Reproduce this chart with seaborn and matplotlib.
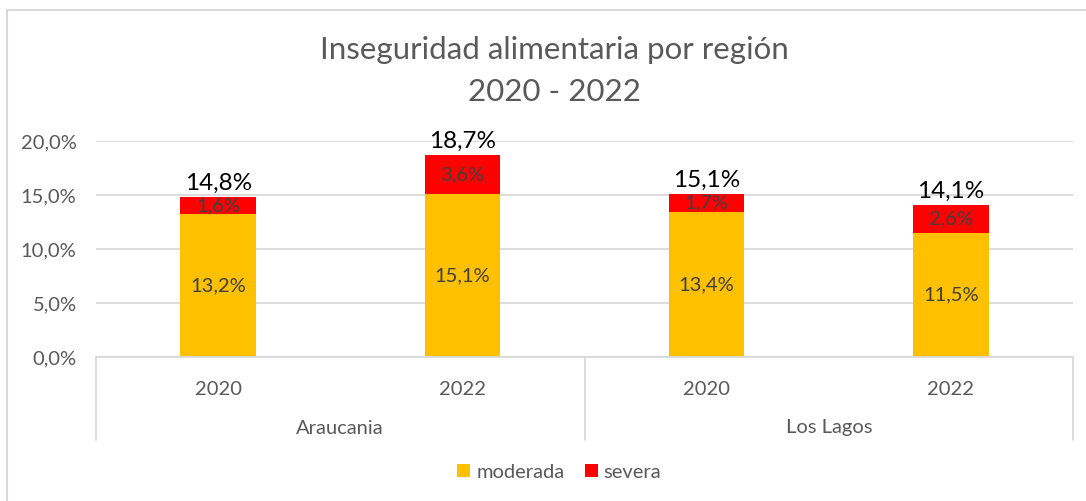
import matplotlib
matplotlib.use("Agg")
import matplotlib.pyplot as plt
import matplotlib.transforms as mtransforms
from matplotlib.ticker import FuncFormatter, MultipleLocator
from matplotlib.patches import Patch, Rectangle
import seaborn as sns
import pandas as pd

regions = ["Araucania", "Araucania", "Los Lagos", "Los Lagos"]
years = ["2020", "2022", "2020", "2022"]
moderada = [13.2, 15.1, 13.4, 11.5]
severa = [1.6, 3.6, 1.7, 2.6]
totals = [14.8, 18.7, 15.1, 14.1]
series_names = ["moderada", "severa"]
title_lines = ["Inseguridad alimentaria por región", "2020 - 2022"]

YELLOW = "#FFC000"
RED = "#FF0000"
GRAY = "#595959"
GRID = "#D9D9D9"
FS = 14.5

sns.set_style("white")
plt.rcParams["font.family"] = ["Lato", "DejaVu Sans"]

cats = [f"{r}\n{y}" for r, y in zip(regions, years)]
df = pd.DataFrame({"cat": cats, "year": years, "region": regions,
                   "moderada": moderada, "severa": severa, "total": totals})

fig = plt.figure(figsize=(10.86, 5.01), dpi=100)
ax = fig.add_axes([96/1086, 1-357/501, (1073-96)/1086, (357-141)/501])

bar_w = 0.31
sns.barplot(data=df, x="cat", y="total", color=RED, width=bar_w, ax=ax,
            saturation=1, errorbar=None, order=cats)
sns.barplot(data=df, x="cat", y="moderada", color=YELLOW, width=bar_w, ax=ax,
            saturation=1, errorbar=None, order=cats)
for p in ax.patches:
    p.set_edgecolor("none")

ax.set_ylim(0, 20)
ax.set_xlim(-0.5, len(cats) - 0.5)
ax.yaxis.set_major_locator(MultipleLocator(5))
ax.yaxis.set_major_formatter(FuncFormatter(lambda v, p: f"{v:.1f}%".replace(".", ",")))
ax.grid(axis="y", color=GRID, linewidth=1.3)
ax.set_axisbelow(True)
for s in ["top", "right", "left"]:
    ax.spines[s].set_visible(False)
ax.spines["bottom"].set_color(GRID)
ax.spines["bottom"].set_linewidth(1.3)
ax.tick_params(axis="y", length=0, labelsize=FS, labelcolor=GRAY, pad=14)
ax.set_xticks(range(len(cats)))
ax.set_xticklabels(years)
ax.tick_params(axis="x", length=0, labelsize=FS, labelcolor=GRAY, pad=17)
ax.set_xlabel("")
ax.set_ylabel("")

# data labels
for i, (m, s, t) in enumerate(zip(moderada, severa, totals)):
    ax.text(i, m / 2, f"{m:.1f}%".replace(".", ","), ha="center", va="center",
            fontsize=FS, color="#404040")
    ax.text(i, m + s / 2, f"{s:.1f}%".replace(".", ","), ha="center", va="center",
            fontsize=FS, color="#404040")
    ax.text(i, t + 0.3, f"{t:.1f}%".replace(".", ","), ha="center", va="bottom",
            fontsize=17.5, color="black")

# group separators and region labels
trans = mtransforms.blended_transform_factory(ax.transData, fig.transFigure)
y_top = 1 - 357/501
y_bot = 1 - 440/501
uniq = []
for r in regions:
    if r not in uniq:
        uniq.append(r)
bounds = [-0.5]
for r in uniq:
    idx = [i for i, rr in enumerate(regions) if rr == r]
    bounds.append(max(idx) + 0.5)
    ax.text((min(idx) + max(idx)) / 2, 1 - 428/501, r, transform=trans,
            ha="center", va="center", fontsize=FS, color=GRAY)
for b in bounds:
    ax.plot([b, b], [y_top, y_bot], transform=trans, color=GRID, lw=1.3,
            clip_on=False)

# title
fig.text(554/1086, 1 - 50/501, title_lines[0], ha="center", va="center",
         fontsize=22.5, color=GRAY)
fig.text(554/1086, 1 - 92/501, title_lines[1], ha="center", va="center",
         fontsize=22.5, color=GRAY)

# legend
handles = [Patch(facecolor=YELLOW, edgecolor="none"), Patch(facecolor=RED, edgecolor="none")]
fig.legend(handles, series_names, loc="center", bbox_to_anchor=(0.515, 1 - 472/501),
           ncol=2, frameon=False, fontsize=FS, handlelength=0.65, handleheight=0.65,
           handletextpad=0.3, columnspacing=1.0, labelcolor=GRAY)

# outer frame
fig.patches.append(Rectangle((7/1086, -0.02), 1.1, 1 - 10/501 + 0.02,
                             transform=fig.transFigure, fill=False,
                             edgecolor=GRID, lw=1.5))

fig.savefig("out.png", dpi=100)
